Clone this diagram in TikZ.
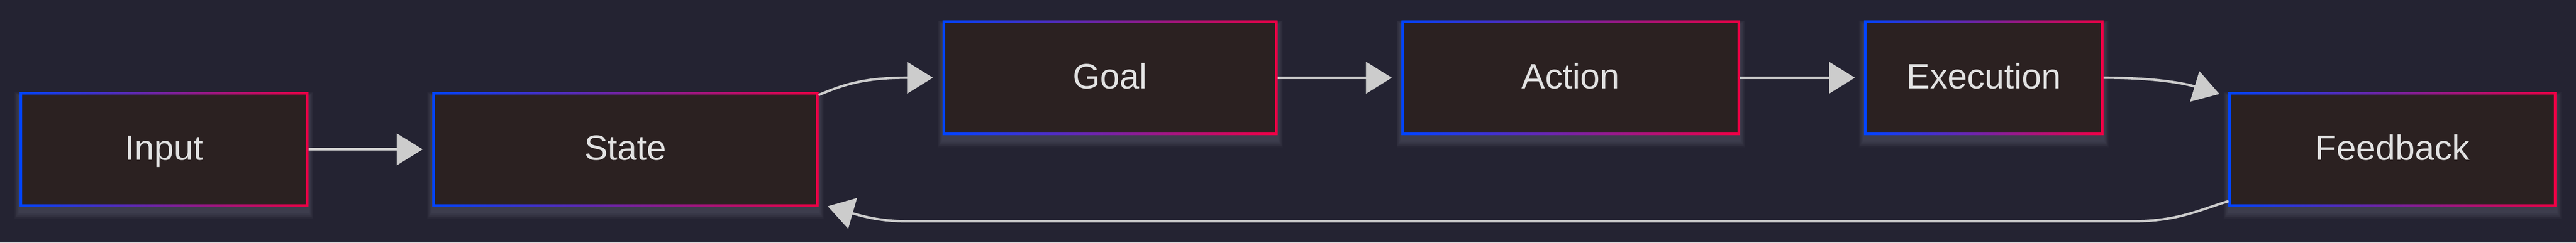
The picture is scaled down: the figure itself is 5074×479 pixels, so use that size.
\documentclass[tikz,border=0pt]{standalone}
\usepackage{fontspec}
\setmainfont{Liberation Sans}
\usetikzlibrary{arrows.meta,backgrounds}
\definecolor{bgc}{RGB}{36,35,50}
\definecolor{boxc}{RGB}{43,33,33}
\definecolor{blc}{RGB}{0,68,255}
\definecolor{rdc}{RGB}{238,0,68}
\definecolor{edgec}{RGB}{204,204,204}
\definecolor{txtc}{RGB}{226,226,226}
\definecolor{glowc}{RGB}{120,120,140}
\newcommand\gborder[1]{\shade[left color=blc,right color=rdc,even odd rule]
  (#1.north west) rectangle (#1.south east)
  ([shift={(5,5)}]#1.north west) rectangle ([shift={(-5,-5)}]#1.south east);}
\newcommand\glowbox[1]{\foreach \i in {1,...,10}{\fill[glowc,opacity=0.045]
  ([shift={(-\i*1.0,10+\i*1.4)}]#1.south west) rectangle ([shift={(\i*1.0,10-\i*1.0)}]#1.north east);}}
\begin{document}
\begin{tikzpicture}[x=0.5pt,y=-0.5pt,
  boxnode/.style={fill=boxc, draw=none, inner sep=0pt, text=txtc,
    font=\fontsize{34.7}{40}\selectfont, text height=21.6pt, text depth=0pt,
    minimum height=113pt},
  conn/.style={draw=edgec, line width=2.35pt, -{Triangle[length=25.5pt,width=31pt]}}]
\useasboundingbox (0,0) rectangle (5074,479);
\node[boxnode, minimum width=284pt] (input) at (323,295) {Input};
\node[boxnode, minimum width=380pt] (state) at (1232,295) {State};
\node[boxnode, minimum width=329.5pt] (goal) at (2186.5,153.5) {Goal};
\node[boxnode, minimum width=333pt] (action) at (3094,153.5) {Action};
\node[boxnode, minimum width=235.5pt] (execution) at (3907.5,153.5) {Execution};
\node[boxnode, minimum width=322.5pt] (feedback) at (4712.5,295) {Feedback};
\begin{pgfonlayer}{background}
\fill[bgc] (0,0) rectangle (5074,479);
\glowbox{input}\glowbox{state}\glowbox{goal}\glowbox{action}\glowbox{execution}\glowbox{feedback}
\end{pgfonlayer}
\gborder{input}\gborder{state}\gborder{goal}\gborder{action}\gborder{execution}\gborder{feedback}
\coordinate (fbA) at (4200,437);
\coordinate (fbB) at (1790,437);
\draw[conn] (input.east) -- ([shift={(-19,0)}]state.west);
\draw[conn] ([shift={(0,6)}]state.north east) .. controls +(48,-20) and +(-138,0) .. ([shift={(-19,0)}]goal.west);
\draw[conn] (goal.east) -- ([shift={(-19,0)}]action.west);
\draw[conn] (action.east) -- ([shift={(-18,0)}]execution.west);
\draw[conn] (execution.east) .. controls +(96,0) and +(-72,-22) .. ([shift={(-18,4)}]feedback.north west);
\draw[conn] ([shift={(0,-11)}]feedback.south west) .. controls +(-60,18) and +(90,0) .. (fbA) -- (fbB) .. controls +(-50,0) and +(80,23) .. ([shift={(18,-1)}]state.south east);
\end{tikzpicture}
\end{document}
